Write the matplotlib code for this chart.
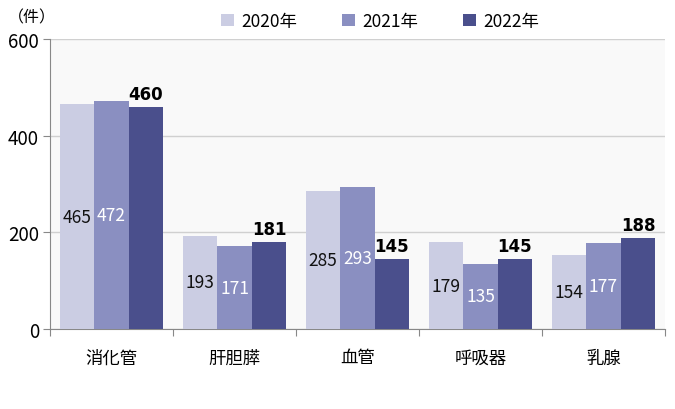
import matplotlib
matplotlib.use("Agg")
import matplotlib.pyplot as plt
import numpy as np
from matplotlib.patches import Patch

plt.rcParams['font.family'] = ['Noto Sans CJK JP', 'DejaVu Sans']

categories = ["消化管", "肝胆膵", "血管", "呼吸器", "乳腺"]
years = ["2020年", "2021年", "2022年"]
v2020 = [465, 193, 285, 179, 154]
v2021 = [472, 171, 293, 135, 177]
v2022 = [460, 181, 145, 145, 188]
colors = ["#cbcde3", "#8a8fc1", "#4a4f8c"]

fig = plt.figure(figsize=(6.75, 4.1), dpi=100)
ax = fig.add_axes([50/675, 80/410, 615/675, 290/410])
ax.set_facecolor("#f9f9f9")

x = np.arange(len(categories))
w = 0.28
series = [v2020, v2021, v2022]
for i, (vals, c) in enumerate(zip(series, colors)):
    bars = ax.bar(x + (i - 1) * w, vals, width=w, color=c, zorder=3)
    for b, v in zip(bars, vals):
        cx = b.get_x() + b.get_width() / 2
        if i == 0:
            ax.text(cx, v / 2, str(v), ha="center", va="center", fontsize=12.5, color="#111111", zorder=4)
        elif i == 1:
            ax.text(cx, v / 2, str(v), ha="center", va="center", fontsize=12.5, color="white", zorder=4)
        else:
            ax.text(cx, v + 8, str(v), ha="center", va="bottom", fontsize=12, fontweight="bold",
                    family="DejaVu Sans", color="black", zorder=4)

ax.set_xlim(-0.5, len(categories) - 0.5)
ax.set_ylim(0, 600)
ax.set_yticks([0, 200, 400, 600])
ax.tick_params(axis="y", labelsize=13.5, length=5, color="#888888", pad=3)
ax.yaxis.grid(True, color="#d0d0d0", linewidth=1, zorder=0)
ax.set_xticks(np.arange(-0.5, len(categories), 1.0))
ax.set_xticklabels([])
ax.set_xticks(x, minor=True)
ax.set_xticklabels(categories, minor=True, fontsize=12.5)
ax.tick_params(axis="x", which="major", length=5, color="#888888")
ax.tick_params(axis="x", which="minor", length=0, pad=14)

for s in ["top", "right"]:
    ax.spines[s].set_visible(False)
ax.spines["left"].set_color("#888888")
ax.spines["bottom"].set_color("#888888")

fig.text(8/675, 1 - 18/410, "（件）", fontsize=11.5, ha="left", va="center")

handles = [Patch(facecolor=c, edgecolor="none") for c in colors]
fig.legend(handles, years, loc="center", bbox_to_anchor=(380/675, 1 - 22/410), ncol=3,
           frameon=False, fontsize=12.5, handlelength=0.75, handleheight=0.75,
           handletextpad=0.4, columnspacing=2.6)

fig.savefig("out.png", dpi=100)
